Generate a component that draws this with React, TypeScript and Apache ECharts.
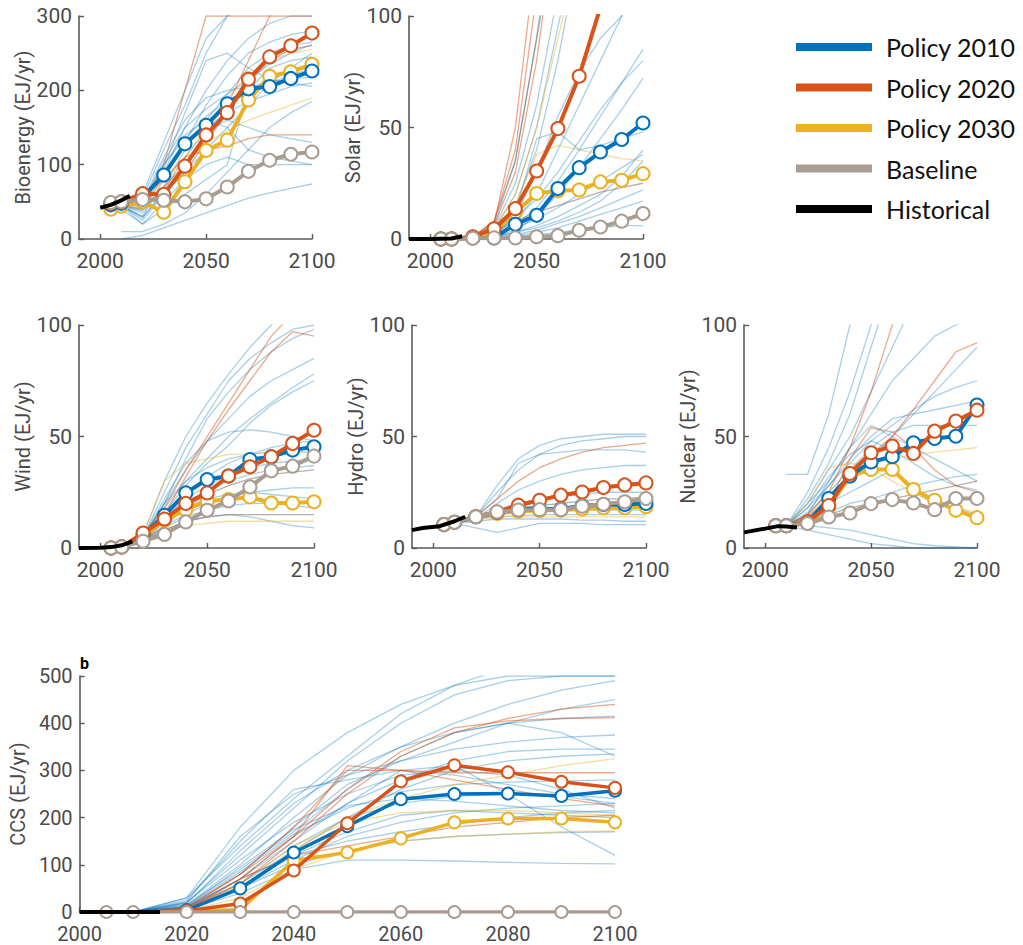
import React, { useEffect, useRef } from "react";
import * as echarts from "echarts";

// ---------- shared x positions ----------
const YEARS_MAIN = [2005, 2010, 2020, 2030, 2040, 2050, 2060, 2070, 2080, 2090, 2100];
const YEARS_BG = [2010, 2020, 2030, 2040, 2050, 2060, 2070, 2080, 2090, 2100];
const CCS_POLICY_YEARS = [2020, 2030, 2040, 2050, 2060, 2070, 2080, 2090, 2100];
const TOP_X_TICKS = [2000, 2050, 2100];

const LEGEND_NAMES = ["Policy 2010", "Policy 2020", "Policy 2030", "Baseline", "Historical"];

// ---------- Bioenergy ----------
const BIO_P2010 = [46, 48, 56, 86, 128, 153, 182, 202, 205, 216, 226];
const BIO_P2020 = [48, 50, 61, 60, 98, 140, 170, 215, 245, 260, 277];
const BIO_P2030 = [40, 44, 50, 36, 77, 119, 133, 187, 219, 225, 235];
const BIO_BASE = [49, 50, 53, 52, 50, 54, 70, 91, 106, 114, 117];
const BIO_HIST_YEARS = [2000, 2005, 2010, 2014];
const BIO_HIST = [42, 46, 52, 58];
const BIO_BG_BLUE = [
  [45, 40, 90, 150, 200, 240, 270, 290, 300, 300],
  [45, 30, 80, 130, 180, 220, 250, 265, 275, 280],
  [45, 50, 110, 160, 190, 200, 205, 210, 220, 230],
  [45, 35, 70, 120, 160, 195, 230, 250, 260, 265],
  [45, 55, 120, 180, 250, 300, 320, 330, 330, 330],
  [45, 25, 60, 100, 140, 175, 200, 215, 225, 235],
  [40, 20, 50, 80, 100, 110, 100, 100, 100, 100],
  [0, 5, 15, 25, 35, 45, 55, 62, 68, 74],
  [45, 40, 100, 140, 160, 150, 120, 110, 105, 100],
  [45, 30, 60, 90, 120, 150, 180, 210, 230, 250],
  [45, 45, 95, 170, 240, 250, 230, 215, 210, 205],
  [45, 20, 40, 60, 80, 100, 200, 230, 240, 245],
  [45, 48, 105, 150, 175, 195, 215, 235, 250, 262],
  [45, 38, 85, 125, 150, 170, 185, 195, 205, 210],
  [45, 60, 130, 200, 270, 300, 310, 310, 310, 310],
  [45, 42, 100, 135, 165, 185, 200, 210, 215, 218],
  [45, 28, 65, 110, 145, 160, 150, 140, 135, 130],
  [10, 10, 20, 35, 60, 90, 120, 150, 170, 185],
];
const BIO_BG_RED = [
  [45, 50, 100, 200, 300, 300, 300, 300, 300, 300],
  [45, 55, 80, 110, 120, 125, 135, 140, 140, 140],
  [45, 50, 70, 100, 130, 180, 240, 300, 330, 340],
];
const BIO_BG_YELLOW = [
  [45, 45, 80, 110, 130, 145, 160, 170, 180, 190],
  [45, 40, 70, 110, 150, 190, 220, 240, 250, 255],
];
const BIO_BG_GRAY = [[45, 50, 60, 90, 130, 170, 210, 240, 255, 260]];

// ---------- Solar ----------
const SOL_P2010 = [0, 0, 0.5, 0.5, 6.6, 10.6, 22.6, 32, 39, 44.6, 52];
const SOL_P2020 = [0, 0, 1, 4.6, 13.6, 30.5, 49.5, 73, 104, 130, 160];
const SOL_P2030 = [0, 0, 0.8, 3, 12, 20.4, 21.6, 22, 25.6, 26.3, 29.3];
const SOL_BASE = [0, 0, 0.3, 0.5, 0.5, 1, 1.5, 3.9, 5.4, 8, 11.4];
const SOL_HIST_YEARS = [1990, 2000, 2010, 2015];
const SOL_HIST = [0, 0, 0.2, 1.2];
const SOL_BG_BLUE = [
  [0, 0.5, 3, 15, 40, 80, 130, 180, 220, 250],
  [0, 1, 5, 25, 60, 110, 160, 200, 230, 250],
  [0, 0.5, 2, 8, 20, 40, 60, 80, 100, 120],
  [0, 0.5, 2, 6, 14, 26, 40, 55, 70, 85],
  [0, 0.5, 1, 4, 10, 20, 32, 45, 58, 72],
  [0, 0.3, 1, 3, 6, 10, 15, 20, 28, 40],
  [0, 0.3, 1, 2, 4, 7, 10, 14, 18, 22],
  [0, 0.2, 0.5, 1, 2, 3, 4, 5, 6, 6],
  [0, 0.5, 4, 20, 50, 95, 140, 180, 210, 230],
  [0, 1, 6, 35, 90, 140, 190, 230, 260, 280],
  [0, 0.3, 2, 10, 30, 55, 75, 90, 100, 110],
  [0, 0.5, 3, 12, 45, 48, 40, 42, 45, 48],
  [0, 0.3, 1, 3, 5, 8, 12, 17, 25, 35],
  [0, 0.2, 0.6, 1.5, 3, 5, 8, 11, 14, 17],
  [0, 0.5, 3, 9, 18, 30, 44, 58, 70, 80],
  [0, 0.4, 2, 5, 9, 14, 20, 26, 32, 38],
];
const SOL_BG_RED = [
  [0, 1, 8, 40, 110, 200, 280, 330, 360, 380],
  [0, 1, 6, 30, 80, 150, 220, 280, 320, 350],
  [0, 1, 7, 50, 130, 220, 300, 350, 380, 400],
];
const SOL_BG_YELLOW = [
  [0, 1, 5, 20, 50, 90, 130, 170, 200, 220],
  [0, 0.5, 3, 15, 38, 42, 40, 38, 36, 35],
];
const SOL_BG_GRAY = [
  [0, 0.5, 3, 8, 12, 15, 18, 21, 23, 25],
  [0, 1, 8, 35, 90, 160, 230, 280, 320, 350],
];

// ---------- Wind ----------
const WIN_P2010 = [0, 0.5, 6, 14.7, 24.7, 30.7, 32.3, 39.7, 40.9, 43.9, 45.4];
const WIN_P2020 = [0, 0.5, 6.7, 13, 20, 24.7, 32.3, 36.4, 40.9, 46.9, 52.8];
const WIN_P2030 = [0, 0.5, 5, 12.4, 17.2, 21.1, 21.7, 22.9, 20.2, 20.2, 20.7];
const WIN_BASE = [0, 0.5, 3, 6.1, 11.7, 16.9, 21.1, 27.4, 34.6, 36.7, 41.2];
const WIN_HIST_YEARS = [1990, 2000, 2005, 2010, 2015];
const WIN_HIST = [0, 0.1, 0.4, 1.2, 3];
const WIN_BG_BLUE = [
  [1, 5, 25, 45, 60, 75, 85, 92, 98, 100],
  [1, 6, 30, 50, 65, 78, 90, 100, 110, 115],
  [1, 5, 20, 35, 48, 58, 68, 75, 80, 85],
  [1, 4, 18, 30, 40, 50, 58, 65, 72, 78],
  [1, 5, 22, 38, 48, 52, 53, 52, 50, 48],
  [1, 4, 15, 25, 32, 38, 42, 45, 47, 48],
  [1, 3, 12, 20, 26, 30, 33, 35, 36, 37],
  [1, 3, 10, 15, 20, 23, 25, 26, 27, 27],
  [1, 3, 8, 12, 14, 15, 14, 12, 10, 9],
  [1, 4, 16, 28, 38, 46, 56, 64, 70, 75],
  [1, 3, 12, 18, 22, 24, 25, 24, 23, 22],
  [1, 5, 20, 30, 36, 40, 42, 43, 43, 43],
  [1, 4, 20, 40, 58, 70, 80, 88, 94, 98],
  [1, 3, 9, 14, 17, 19, 20, 20, 19, 18],
  [1, 4, 14, 22, 28, 33, 36, 38, 39, 40],
];
const WIN_BG_RED = [
  [1, 6, 18, 35, 50, 65, 80, 95, 105, 110],
  [1, 5, 15, 32, 48, 62, 75, 88, 97, 95],
];
const WIN_BG_YELLOW = [
  [1, 6, 30, 38, 40, 42, 42, 43, 43, 43],
  [1, 3, 8, 10, 11, 12, 12, 12, 12, 12],
];
const WIN_BG_GRAY = [
  [1, 3, 8, 12, 14, 15, 15, 15, 15, 15],
  [1, 3, 10, 18, 24, 28, 31, 33, 34, 35],
];

// ---------- Hydro ----------
const HYD_P2010 = [10.5, 11.5, 14, 16, 17.5, 17.5, 17.5, 19, 19.5, 19.5, 20];
const HYD_P2020 = [10.5, 11.5, 14, 16, 19.2, 21.4, 23.7, 25.1, 27.1, 28.3, 29.2];
const HYD_P2030 = [10.5, 11.5, 14, 15.5, 16.5, 16.8, 17, 17.5, 18, 18, 18.5];
const HYD_BASE = [10.5, 11.5, 14, 16.2, 17, 17.2, 17.2, 18.7, 19.6, 20.7, 22.2];
const HYD_HIST_YEARS = [1990, 1995, 2003, 2010, 2015];
const HYD_HIST = [8, 9, 9.8, 12, 14];
const HYD_BG_BLUE = [
  [11, 14, 28, 40, 46, 49, 50, 51, 51, 51],
  [11, 14, 25, 35, 42, 46, 48, 49, 50, 50],
  [11, 14, 22, 38, 42, 43, 44, 44, 44, 43],
  [11, 13, 20, 26, 30, 33, 35, 36, 37, 37],
  [11, 9, 7, 9, 11, 11, 11, 10.5, 10.5, 10.5],
  [11, 13, 15, 16, 17, 17, 17, 17, 17, 17],
  [11, 13, 14, 14.5, 15, 15, 15, 15, 15, 15],
  [11, 12, 13, 13, 13, 13, 12.5, 12.5, 12, 12],
  [11, 13, 17, 20, 22, 23, 24, 25, 25, 25],
];
const HYD_BG_RED = [
  [11, 14, 22, 30, 36, 40, 43, 45, 46, 47],
  [11, 14, 17, 20, 22, 24, 26, 27, 28, 28],
];
const HYD_BG_YELLOW = [
  [11, 13, 14, 14, 14, 14, 14, 14, 14, 14],
  [11, 13, 16, 17, 18, 18, 18, 18, 18, 18],
];
const HYD_BG_GRAY = [[11, 14, 16, 18, 19, 20, 21, 22, 22, 23]];

// ---------- Nuclear ----------
const NUC_P2010 = [10, 10, 11.5, 22.2, 32.3, 38.6, 40.9, 47.2, 49.1, 50.1, 64.1];
const NUC_P2020 = [10, 10, 11.7, 19, 33.4, 42.7, 45.7, 42.4, 52.4, 56.9, 61.8];
const NUC_P2030 = [10, 10, 11.5, 18.4, 32.2, 35.2, 35.2, 26.2, 21.4, 16.9, 13.6];
const NUC_BASE = [10, 10, 11, 13.9, 15.7, 19.9, 21.7, 20.2, 17.2, 22.2, 22.2];
const NUC_HIST_YEARS = [1990, 2000, 2006, 2010, 2015];
const NUC_HIST = [7, 8.7, 9.8, 9.6, 9.2];
const NUC_BG_BLUE = [
  [10, 25, 45, 70, 100, 130, 150, 160, 170, 180],
  [10, 20, 35, 50, 70, 90, 110, 130, 150, 160],
  [10, 15, 30, 45, 60, 75, 85, 95, 100, 105],
  [10, 20, 30, 45, 55, 50, 45, 40, 35, 30],
  [10, 12, 20, 30, 40, 50, 60, 70, 80, 90],
  [10, 8, 6, 4, 2, 1, 0, 0, 0, 0],
  [10, 10, 9, 8, 6, 4, 2, 1, 0.5, 0],
  [10, 15, 25, 35, 45, 52, 55, 55, 55, 55],
  [33, 33, 60, 100, 130, 160, 190, 220, 250, 280],
  [10, 18, 28, 38, 48, 55, 62, 68, 72, 75],
  [10, 14, 20, 25, 30, 35, 25, 20, 18, 15],
  [10, 12, 16, 20, 22, 25, 28, 30, 32, 33],
  [10, 22, 38, 60, 90, 120, 140, 150, 160, 165],
  [10, 16, 28, 40, 50, 58, 60, 62, 64, 66],
  [10, 18, 32, 42, 48, 44, 38, 32, 28, 26],
];
const NUC_BG_RED = [
  [10, 15, 25, 45, 70, 100, 130, 160, 180, 200],
  [10, 14, 22, 32, 42, 50, 62, 75, 88, 92],
  [10, 12, 20, 40, 54, 52, 45, 35, 28, 25],
];
const NUC_BG_YELLOW = [
  [10, 20, 36, 38, 36, 30, 25, 20, 18, 16],
  [10, 14, 24, 32, 38, 40, 42, 43, 44, 45],
];
const NUC_BG_GRAY = [[10, 12, 15, 18, 20, 22, 24, 26, 28, 30]];

// ---------- CCS ----------
const CCS_P2010 = [4, 50, 126, 182, 239, 250, 251, 246, 257];
const CCS_P2020 = [2, 18, 88, 188, 277, 311, 296, 276, 263];
const CCS_P2030 = [2, 5, 109, 126, 156, 190, 198, 198, 190];
const CCS_BASE = [0, 0, 0, 0, 0, 0, 0, 0, 0, 0, 0];
const CCS_HIST_YEARS = [2000, 2015];
const CCS_HIST = [0, 0];
const CCS_BG_BLUE = [
  [0, 30, 140, 240, 330, 420, 480, 520, 540, 560],
  [0, 20, 120, 220, 320, 400, 460, 490, 500, 500],
  [0, 15, 100, 200, 290, 350, 400, 440, 470, 490],
  [0, 10, 80, 180, 270, 320, 360, 400, 430, 450],
  [0, 10, 70, 150, 230, 280, 320, 340, 345, 345],
  [0, 10, 60, 140, 200, 230, 245, 250, 245, 230],
  [0, 5, 50, 110, 160, 190, 210, 220, 225, 230],
  [0, 5, 40, 90, 110, 110, 108, 105, 103, 102],
  [0, 5, 50, 100, 130, 150, 160, 165, 168, 170],
  [0, 20, 110, 190, 250, 290, 300, 290, 260, 220],
  [0, 25, 150, 260, 280, 300, 290, 270, 250, 240],
  [0, 15, 90, 170, 260, 330, 380, 400, 380, 330],
  [0, 10, 70, 160, 230, 300, 310, 250, 180, 120],
  [0, 8, 60, 130, 200, 260, 300, 320, 330, 335],
  [0, 30, 180, 300, 380, 440, 480, 500, 500, 500],
  [0, 12, 85, 165, 220, 255, 270, 275, 278, 280],
  [0, 6, 55, 120, 170, 205, 215, 210, 205, 200],
  [0, 18, 130, 230, 300, 350, 380, 400, 410, 415],
  [0, 22, 160, 250, 290, 320, 345, 360, 370, 375],
  [0, 12, 95, 175, 225, 240, 235, 225, 215, 210],
  [0, 8, 70, 120, 150, 170, 185, 200, 210, 215],
];
const CCS_BG_RED = [
  [0, 5, 60, 150, 250, 330, 380, 410, 430, 440],
  [0, 5, 70, 160, 260, 340, 390, 405, 410, 412],
  [0, 10, 80, 180, 300, 300, 295, 295, 295, 295],
  [0, 5, 70, 120, 140, 160, 180, 190, 200, 205],
  [0, 8, 80, 160, 310, 300, 280, 260, 240, 225],
];
const CCS_BG_YELLOW = [
  [0, 5, 50, 130, 200, 240, 270, 290, 310, 325],
  [0, 3, 30, 90, 130, 150, 160, 165, 170, 172],
  [0, 5, 60, 140, 190, 210, 215, 215, 210, 205],
];

// ---------- styling ----------
const C_P2010 = "#0072BD";
const C_P2020 = "#D95319";
const C_P2030 = "#EDB120";
const C_BASE = "#A99C90";
const C_HIST = "#000000";
const BG_BLUE = "rgba(0,114,189,0.34)";
const BG_RED = "rgba(217,83,25,0.5)";
const BG_YELLOW = "rgba(237,177,32,0.45)";
const BG_GRAY = "rgba(110,100,80,0.5)";
const FONT = "Roboto";
const LEGEND_FONT = "Lato";

type Panel = {
  name: string;
  grid: { left: number; top: number; width: number; height: number };
  xMin: number;
  xMax: number;
  xTicks?: number[];
  xInterval?: number;
  yMax: number;
  yInterval: number;
  tickFont: number;
  nameFont: number;
  nameGap: number;
  xLabelMargin: number;
  symbolSize: number;
  lineWidth: number;
  mainYears: number[];
  policyYears: number[];
  p2010: number[];
  p2020: number[];
  p2030: number[];
  base: number[];
  histYears: number[];
  hist: number[];
  bgBlue: number[][];
  bgRed: number[][];
  bgYellow: number[][];
  bgGray: number[][];
};

const PANELS: Panel[] = [
  {
    name: "Bioenergy (EJ/yr)", grid: { left: 79, top: 16, width: 233, height: 223 },
    xMin: 1990, xMax: 2100, xTicks: TOP_X_TICKS, yMax: 300, yInterval: 100,
    tickFont: 21, nameFont: 20, nameGap: 42, xLabelMargin: 11, symbolSize: 13, lineWidth: 4,
    mainYears: YEARS_MAIN, policyYears: YEARS_MAIN,
    p2010: BIO_P2010, p2020: BIO_P2020, p2030: BIO_P2030, base: BIO_BASE,
    histYears: BIO_HIST_YEARS, hist: BIO_HIST,
    bgBlue: BIO_BG_BLUE, bgRed: BIO_BG_RED, bgYellow: BIO_BG_YELLOW, bgGray: BIO_BG_GRAY,
  },
  {
    name: "Solar (EJ/yr)", grid: { left: 409, top: 16, width: 234, height: 223 },
    xMin: 1990, xMax: 2100, xTicks: TOP_X_TICKS, yMax: 100, yInterval: 50,
    tickFont: 21, nameFont: 20, nameGap: 42, xLabelMargin: 11, symbolSize: 13, lineWidth: 4,
    mainYears: YEARS_MAIN, policyYears: YEARS_MAIN,
    p2010: SOL_P2010, p2020: SOL_P2020, p2030: SOL_P2030, base: SOL_BASE,
    histYears: SOL_HIST_YEARS, hist: SOL_HIST,
    bgBlue: SOL_BG_BLUE, bgRed: SOL_BG_RED, bgYellow: SOL_BG_YELLOW, bgGray: SOL_BG_GRAY,
  },
  {
    name: "Wind (EJ/yr)", grid: { left: 79, top: 325, width: 235, height: 223 },
    xMin: 1990, xMax: 2100, xTicks: TOP_X_TICKS, yMax: 100, yInterval: 50,
    tickFont: 21, nameFont: 20, nameGap: 42, xLabelMargin: 11, symbolSize: 13, lineWidth: 4,
    mainYears: YEARS_MAIN, policyYears: YEARS_MAIN,
    p2010: WIN_P2010, p2020: WIN_P2020, p2030: WIN_P2030, base: WIN_BASE,
    histYears: WIN_HIST_YEARS, hist: WIN_HIST,
    bgBlue: WIN_BG_BLUE, bgRed: WIN_BG_RED, bgYellow: WIN_BG_YELLOW, bgGray: WIN_BG_GRAY,
  },
  {
    name: "Hydro (EJ/yr)", grid: { left: 412, top: 325, width: 234, height: 223 },
    xMin: 1990, xMax: 2100, xTicks: TOP_X_TICKS, yMax: 100, yInterval: 50,
    tickFont: 21, nameFont: 20, nameGap: 42, xLabelMargin: 11, symbolSize: 13, lineWidth: 4,
    mainYears: YEARS_MAIN, policyYears: YEARS_MAIN,
    p2010: HYD_P2010, p2020: HYD_P2020, p2030: HYD_P2030, base: HYD_BASE,
    histYears: HYD_HIST_YEARS, hist: HYD_HIST,
    bgBlue: HYD_BG_BLUE, bgRed: HYD_BG_RED, bgYellow: HYD_BG_YELLOW, bgGray: HYD_BG_GRAY,
  },
  {
    name: "Nuclear (EJ/yr)", grid: { left: 744, top: 325, width: 233, height: 223 },
    xMin: 1990, xMax: 2100, xTicks: TOP_X_TICKS, yMax: 100, yInterval: 50,
    tickFont: 21, nameFont: 20, nameGap: 42, xLabelMargin: 11, symbolSize: 13, lineWidth: 4,
    mainYears: YEARS_MAIN, policyYears: YEARS_MAIN,
    p2010: NUC_P2010, p2020: NUC_P2020, p2030: NUC_P2030, base: NUC_BASE,
    histYears: NUC_HIST_YEARS, hist: NUC_HIST,
    bgBlue: NUC_BG_BLUE, bgRed: NUC_BG_RED, bgYellow: NUC_BG_YELLOW, bgGray: NUC_BG_GRAY,
  },
  {
    name: "CCS (EJ/yr)", grid: { left: 76, top: 676, width: 539, height: 236 },
    xMin: 2000, xMax: 2100, xInterval: 20, yMax: 500, yInterval: 100,
    tickFont: 20, nameFont: 20, nameGap: 42, xLabelMargin: 12, symbolSize: 12, lineWidth: 3.5,
    mainYears: YEARS_MAIN, policyYears: CCS_POLICY_YEARS,
    p2010: CCS_P2010, p2020: CCS_P2020, p2030: CCS_P2030, base: CCS_BASE,
    histYears: CCS_HIST_YEARS, hist: CCS_HIST,
    bgBlue: CCS_BG_BLUE, bgRed: CCS_BG_RED, bgYellow: CCS_BG_YELLOW, bgGray: [],
  },
];

const LEGEND_COLORS = [C_P2010, C_P2020, C_P2030, C_BASE, C_HIST];

function pairs(xs: number[], ys: number[]) {
  return ys.map((v, i) => [xs[i], v]);
}

function buildOption() {
  const grids: any[] = [];
  const xAxes: any[] = [];
  const yAxes: any[] = [];
  const series: any[] = [];

  PANELS.forEach((p, i) => {
    grids.push({ ...p.grid, containLabel: false });
    const axisLine = { show: true, lineStyle: { color: "#5a5a5a", width: 1.6 } };
    const tick = { show: true, inside: true, length: 5, lineStyle: { color: "#5a5a5a", width: 1.4 } };
    const xAxis: any = {
      type: "value",
      gridIndex: i,
      min: p.xMin,
      max: p.xMax,
      axisLine,
      splitLine: { show: false },
      axisTick: { ...tick },
      axisLabel: {
        color: "#4a4a4a",
        fontSize: p.tickFont,
        fontFamily: FONT,
        margin: p.xLabelMargin,
        formatter: (v: number) => String(v),
      },
    };
    if (p.xTicks) {
      xAxis.axisTick.customValues = p.xTicks;
      xAxis.axisLabel.customValues = p.xTicks;
    } else {
      xAxis.interval = p.xInterval;
    }
    xAxes.push(xAxis);
    yAxes.push({
      type: "value",
      gridIndex: i,
      min: 0,
      max: p.yMax,
      interval: p.yInterval,
      name: p.name,
      nameLocation: "middle",
      nameRotate: 90,
      nameGap: p.nameGap,
      nameTextStyle: { color: "#4a4a4a", fontSize: p.nameFont, fontFamily: FONT },
      axisLine,
      splitLine: { show: false },
      axisTick: { ...tick },
      axisLabel: { color: "#4a4a4a", fontSize: p.tickFont, fontFamily: FONT, margin: 7 },
    });

    const bgGroups: [number[][], string][] = [
      [p.bgBlue, BG_BLUE],
      [p.bgGray, BG_GRAY],
      [p.bgYellow, BG_YELLOW],
      [p.bgRed, BG_RED],
    ];
    bgGroups.forEach(([lines, color], g) => {
      lines.forEach((ln, k) => {
        series.push({
          type: "line",
          name: `bg-${i}-${g}-${k}`,
          xAxisIndex: i,
          yAxisIndex: i,
          data: pairs(YEARS_BG, ln),
          symbol: "none",
          silent: true,
          lineStyle: { color, width: 1.3 },
          z: 1,
        });
      });
    });

    const mains: [string, number[], number[], string][] = [
      ["Policy 2030", p.policyYears, p.p2030, C_P2030],
      ["Policy 2010", p.policyYears, p.p2010, C_P2010],
      ["Policy 2020", p.policyYears, p.p2020, C_P2020],
      ["Baseline", p.mainYears, p.base, C_BASE],
    ];
    mains.forEach(([name, xs, ys, color], k) => {
      series.push({
        type: "line",
        name,
        xAxisIndex: i,
        yAxisIndex: i,
        data: pairs(xs, ys),
        symbol: "circle",
        symbolSize: p.symbolSize,
        showAllSymbol: true,
        silent: true,
        lineStyle: { color, width: p.lineWidth },
        itemStyle: { color: "#ffffff", borderColor: color, borderWidth: 2 },
        z: 3 + k * 0.1,
      });
    });

    series.push({
      type: "line",
      name: "Historical",
      xAxisIndex: i,
      yAxisIndex: i,
      data: pairs(p.histYears, p.hist),
      symbol: "none",
      silent: true,
      lineStyle: { color: C_HIST, width: 4 },
      z: 4,
    });
  });

  const graphic: any[] = [];
  LEGEND_NAMES.forEach((n, k) => {
    const cy = 47 + k * 40.5;
    graphic.push({
      type: "rect",
      shape: { x: 796, y: cy - 4, width: 76, height: 8 },
      style: { fill: LEGEND_COLORS[k] },
      silent: true,
    });
    graphic.push({
      type: "text",
      x: 886,
      y: cy,
      style: {
        text: n,
        fill: "#111111",
        fontSize: 25,
        fontFamily: LEGEND_FONT,
        verticalAlign: "middle",
        align: "left",
      },
      silent: true,
    });
  });
  graphic.push({
    type: "text",
    x: 80,
    y: 663,
    style: {
      text: "b",
      fill: "#000",
      fontSize: 16,
      fontWeight: "bold",
      fontFamily: FONT,
      verticalAlign: "middle",
      align: "left",
    },
    silent: true,
  });

  return {
    animation: false,
    backgroundColor: "#ffffff",
    grid: grids,
    xAxis: xAxes,
    yAxis: yAxes,
    series,
    graphic,
    tooltip: { show: false },
  };
}

export default function App() {
  const ref = useRef<HTMLDivElement>(null);
  useEffect(() => {
    document.body.style.margin = "0";
    if (!ref.current) return;
    const chart = echarts.init(ref.current, undefined, { renderer: "svg" });
    chart.setOption(buildOption() as any);
    return () => chart.dispose();
  }, []);
  return <div ref={ref} style={{ width: 1023, height: 945 }} />;
}
